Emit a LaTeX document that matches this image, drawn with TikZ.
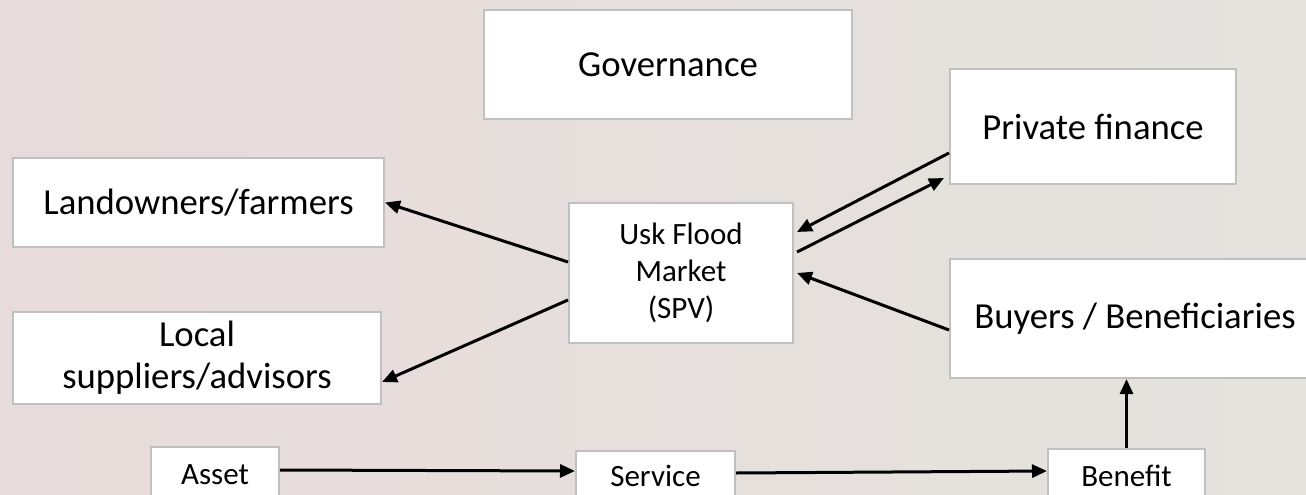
\documentclass[tikz,border=0pt]{standalone}
\usepackage{fontspec}
\setmainfont{Carlito}
\usetikzlibrary{arrows.meta, positioning, calc}
\definecolor{bgrose}{RGB}{232,219,219}
\definecolor{bgmist}{RGB}{228,227,222}
\definecolor{boxline}{RGB}{192,192,192}

\begin{document}
\begin{tikzpicture}[x=1pt, y=-1pt,
  box/.style={draw=boxline, line width=2pt, fill=white, inner sep=0pt, align=center,
    font=\fontsize{36.7}{42}\selectfont},
  smallbox/.style={box, font=\fontsize{31}{37}\selectfont},
  flow/.style={-{Triangle[length=15pt,width=13pt]}, line width=3pt}]
  % ============ background ============
  \useasboundingbox (0,0) rectangle (1306,495);
  \clip (0,0) rectangle (1306,495);
  \shade[shading angle=60, left color=bgrose, right color=bgmist] (0,0) rectangle (1306,495);
  % ============ boxes ============
  \node[box, minimum width=368pt, minimum height=109pt] (gov) at (668,64.5) {Governance};
  \node[box, minimum width=286pt, minimum height=115pt] (private) at (1093,126.5) {Private finance};
  \node[box, minimum width=371pt, minimum height=89pt] (land) at (198.5,202.5) {Landowners/farmers};
  \node[smallbox, minimum width=224pt, minimum height=140pt] (usk) at (681,273) {Usk Flood\\Market\\(SPV)};
  \node[box, minimum width=370pt, minimum height=119pt] (buyers) at (1135,318.5) {Buyers / Beneficiaries};
  \node[box, minimum width=368pt, minimum height=92pt] (local) at (197,358) {Local\\suppliers/advisors};
  \node[smallbox, minimum width=128pt, minimum height=56pt] (asset) at (215,475) {Asset};
  \node[smallbox, minimum width=159pt, minimum height=50pt] (service) at (655.5,476) {Service};
  \node[smallbox, minimum width=157pt, minimum height=54pt] (benefit) at (1126.5,476) {Benefit};
  % ============ flows ============
  \draw[flow] ([yshift=11pt]usk.west) -- (land.east);
  \draw[flow] ([yshift=-27pt]usk.west) -- ([yshift=-24pt]local.east);
  \draw[flow] ([yshift=-26.5pt]private.west) -- ([xshift=3pt,yshift=41pt]usk.east);
  \draw[flow] ([xshift=3pt,yshift=21pt]usk.east) -- ([xshift=-5pt,yshift=-51.5pt]private.west);
  \draw[flow] ([yshift=-11.5pt]buyers.west) -- ([xshift=3pt]usk.east);
  \draw[flow] ([yshift=5pt]asset.east) -- ([yshift=5pt]service.west);
  \draw[flow] ([yshift=3pt]service.east) -- ([yshift=5pt]benefit.west);
  \draw[flow] (benefit.north) -- (benefit.north |- buyers.south);
\end{tikzpicture}
\end{document}
